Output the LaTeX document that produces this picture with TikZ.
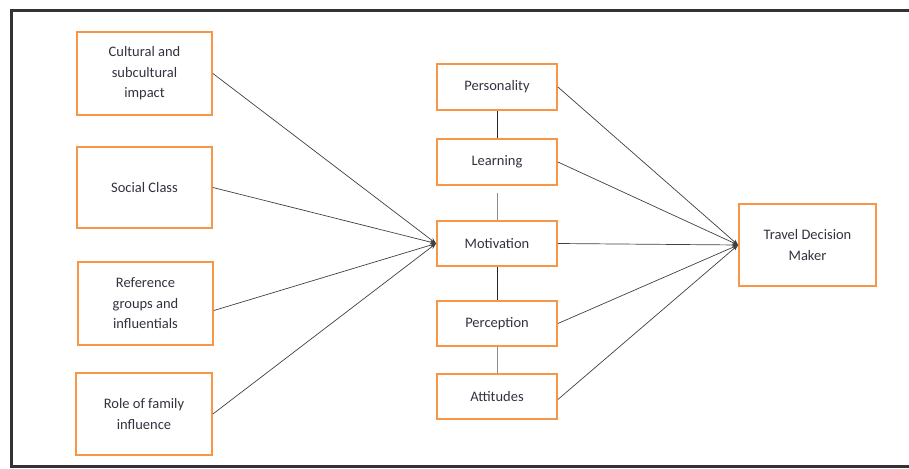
\documentclass[tikz,border=0pt]{standalone}
\usepackage{fontspec}
\setmainfont{Carlito}
\usetikzlibrary{arrows.meta}
\definecolor{boxorange}{HTML}{F79646}
\definecolor{txt}{HTML}{333340}
\begin{document}
\begin{tikzpicture}[x=1pt,y=-1pt,
  obox/.style={draw=boxorange,line width=1.8pt,fill=white,align=center,font=\fontsize{14.5}{20.5}\selectfont,text=txt,inner sep=0pt},
  link/.style={draw=black!75,line width=0.7pt},
  arr/.style={link,-{Stealth[length=6pt,width=4.5pt]}},
  vlinkd/.style={draw=black!85,line width=1pt},
  vlinkl/.style={draw=black!45,line width=0.8pt}]
\useasboundingbox (0,0) rectangle (909,468);
\draw[line width=3pt,draw=black!80] (11,11) rectangle (920,466);
% left boxes
\node[obox,minimum width=135pt,minimum height=83pt] (cult) at (144.5,73.5) {Cultural and\\subcultural\\impact};
\node[obox,minimum width=135pt,minimum height=81pt] (soc) at (144.5,187.5) {Social Class};
\node[obox,minimum width=135pt,minimum height=83pt] (ref) at (145.5,303.5) {Reference\\groups and\\influentials};
\node[obox,minimum width=136pt,minimum height=82pt] (fam) at (144,414) {Role of family\\influence};
% middle boxes
\node[obox,minimum width=120pt,minimum height=46pt] (pers) at (497,87) {Personality};
\node[obox,minimum width=120pt,minimum height=46pt] (learn) at (497,162) {Learning};
\node[obox,minimum width=120pt,minimum height=45pt] (motiv) at (497,243.5) {Motivation};
\node[obox,minimum width=120pt,minimum height=45pt] (perc) at (497,323.5) {Perception};
\node[obox,minimum width=120pt,minimum height=45pt] (att) at (497,396.5) {Attitudes};
% right box
\node[obox,minimum width=137pt,minimum height=82pt] (tdm) at (807.5,245) {Travel Decision\\Maker};
% vertical links
\draw[vlinkd] (pers.south) -- (learn.north);
\draw[vlinkl] ([yshift=-7pt]learn.south) -- (motiv.north);
\draw[vlinkd] (motiv.south) -- (perc.north);
\draw[vlinkl] (perc.south) -- (att.north);
% left to motivation
\coordinate (mL) at (motiv.west);
\draw[arr] (cult.east) -- (mL);
\draw[arr] (soc.east) -- (mL);
\draw[arr] ([yshift=-7pt]ref.east) -- (mL);
\draw[arr] (fam.east) -- (mL);
% middle to travel
\coordinate (tL) at (tdm.west);
\draw[arr] (pers.east) -- (tL);
\draw[arr] (learn.east) -- (tL);
\draw[arr] (motiv.east) -- (tL);
\draw[arr] (perc.east) -- (tL);
\draw[arr] ([yshift=-3pt]att.east) -- (tL);
\end{tikzpicture}
\end{document}
